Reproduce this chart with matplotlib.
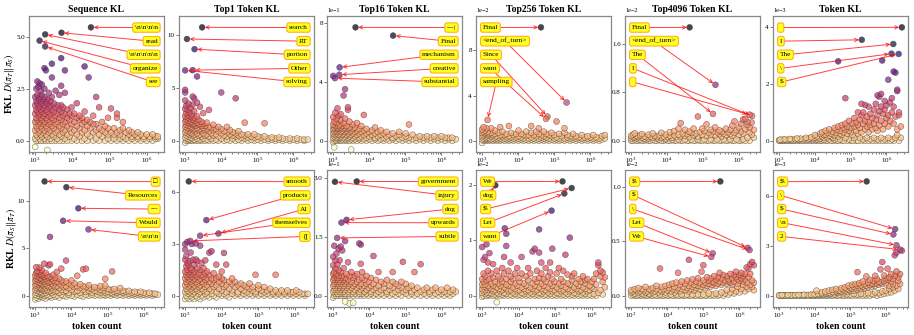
import numpy as np
import matplotlib
matplotlib.use('Agg')
import matplotlib.pyplot as plt
from matplotlib.ticker import ScalarFormatter

plt.rcParams['font.family'] = ['Liberation Serif', 'DejaVu Serif', 'DejaVu Sans']
plt.rcParams['mathtext.fontset'] = 'stix'

titles = ['Sequence KL', 'Top1 Token KL', 'Top16 Token KL',
          'Top256 Token KL', 'Top4096 Token KL', 'Token KL']
row_labels = [r'FKL $D(\pi_T\|\pi_S)$', r'RKL $D(\pi_S\|\pi_T)$']

# cloud data: (log10 token count, [KL values in panel units]) per column
# ---------------- FKL, Sequence KL (units 1)
fkl_seq_cols = [
    (3.00, [-0.3, 0.1, 0.5, 0.9, 1.3, 1.7, 2.1]), (3.03, [0.0, 0.3, 0.7, 1.1, 1.5, 1.9, 2.5]),
    (3.06, [0.2, 0.6, 1.0, 1.4, 1.8, 2.2, 2.85]), (3.09, [0.0, 0.4, 0.8, 1.2, 1.6, 2.0, 2.6]),
    (3.12, [0.1, 0.5, 0.9, 1.3, 1.7, 2.1, 2.75]), (3.15, [0.0, 0.3, 0.7, 1.1, 1.5, 1.9, 2.4]),
    (3.18, [0.2, 0.6, 1.0, 1.4, 1.8, 2.2, 2.7]), (3.21, [0.0, 0.4, 0.8, 1.2, 1.6, 2.0]),
    (3.25, [0.1, 0.5, 0.9, 1.3, 1.7, 2.1, 2.5, 3.49]), (3.29, [0.0, 0.3, 0.7, 1.1, 1.5, 1.9, 3.38]),
    (3.33, [0.2, 0.6, 1.0, 1.4, 1.8, 2.0, -0.45]), (3.37, [0.0, 0.4, 0.8, 1.2, 1.6, 2.3]),
    (3.41, [0.1, 0.5, 0.9, 1.3, 1.7, 1.9]), (3.45, [0.0, 0.3, 0.7, 1.1, 1.5, 2.1, 3.70, 3.04]),
    (3.50, [0.2, 0.6, 1.0, 1.4, 1.8]), (3.55, [0.0, 0.4, 0.8, 1.2, 1.6, 2.4]),
    (3.60, [0.1, 0.5, 0.9, 1.3, 1.7]), (3.65, [0.0, 0.3, 0.7, 1.1, 1.5, 2.2]),
    (3.70, [0.2, 0.6, 1.0, 1.4, 1.7, 2.64, 3.97]), (3.75, [0.0, 0.4, 0.8, 1.2, 1.6]),
    (3.80, [0.1, 0.5, 0.9, 1.3, 2.3, 3.38]), (3.86, [0.0, 0.3, 0.7, 1.1, 1.5]),
    (3.92, [0.2, 0.6, 1.0, 1.3]), (3.98, [0.0, 0.4, 0.8, 1.2, 1.6]),
    (4.05, [0.1, 0.5, 0.9, 1.3]), (4.12, [0.0, 0.3, 0.7, 1.1, 1.8]),
    (4.19, [0.2, 0.6, 1.0, 1.2]), (4.26, [0.0, 0.4, 0.8, 1.1]),
    (4.33, [0.1, 0.5, 0.9, 1.4, 3.57]), (4.40, [0.0, 0.3, 0.7, 1.0]),
    (4.44, [3.04]), (4.48, [0.2, 0.6, 0.9]), (4.56, [0.0, 0.4, 0.8, 1.2]),
    (4.64, [0.1, 0.5, 0.8, 2.1]), (4.72, [0.0, 0.3, 0.6, 1.6]),
    (4.80, [0.2, 0.5, 0.9]), (4.88, [0.0, 0.4, 0.7]),
    (4.96, [0.1, 0.3, 0.6, 1.1]), (5.04, [0.0, 0.4, 1.55]),
    (5.12, [0.1, 0.3, 0.6]), (5.20, [0.0, 0.4, 1.3, 1.1]),
    (5.28, [0.1, 0.3, 0.5]), (5.36, [0.0, 0.2, 0.6, 0.9]),
    (5.44, [0.1, 0.4]), (5.52, [0.0, 0.3, 0.5]), (5.60, [0.1, 0.2, 0.4]),
    (5.68, [0.0, 0.3]), (5.76, [0.1, 0.2, 0.4]), (5.84, [0.0, 0.3]),
    (5.92, [0.1, 0.2]), (6.00, [0.0, 0.3]), (6.08, [0.1, 0.2]),
    (6.16, [0.0, 0.3]), (6.24, [0.1, 0.2]), (6.30, [0.1, 0.2]),
]
fkl_seq_labels = [r'\n\n\n\n', 'read', r'\n\n\n\n\n', 'organize', 'see']
fkl_seq_lx = [4.50, 3.71, 3.27, 3.12, 3.27]
fkl_seq_y = [5.45, 5.19, 5.11, 4.81, 4.53]

# ---------------- FKL, Top1 (units 1)
fkl_top1_cols = [
    (3.00, [-0.2, 0.3, 0.8, 1.3, 1.8, 2.3, 3.0, 3.8, 4.8, 4.55]), (3.03, [0.0, 0.5, 1.0, 1.5, 2.0, 2.6, 3.3]),
    (3.06, [0.2, 0.7, 1.2, 1.7, 2.2, 2.9]), (3.09, [0.0, 0.4, 0.9, 1.4, 1.9, 2.4, 3.5]),
    (3.12, [0.1, 0.6, 1.1, 1.6, 2.1, 2.7]), (3.15, [0.0, 0.3, 0.8, 1.3, 1.8, 2.3, 3.1]),
    (3.18, [0.2, 0.7, 1.2, 1.7, 2.5]), (3.21, [0.0, 0.5, 1.0, 1.5, 2.0, 4.16, 3.4]),
    (3.25, [0.1, 0.6, 1.1, 1.6, 2.2, 2.8, 4.0]), (3.29, [0.0, 0.4, 0.9, 1.4, 1.9]),
    (3.33, [0.2, 0.7, 1.2, 1.7, 2.3, 3.6, 6.06]), (3.37, [0.0, 0.5, 1.0, 1.5, 2.0]),
    (3.41, [0.1, 0.6, 1.1, 1.6, 3.2]), (3.45, [0.0, 0.4, 0.9, 1.4, 1.8]),
    (3.50, [0.2, 0.7, 1.2, 1.6, 2.6]), (3.55, [0.0, 0.5, 1.0, 1.4]),
    (3.60, [0.1, 0.6, 1.1, 1.7]), (3.66, [0.0, 0.4, 0.9, 1.3, 2.9]),
    (3.72, [0.2, 0.7, 1.2]), (3.78, [0.0, 0.5, 1.0, 1.5]),
    (3.85, [0.1, 0.6, 1.1]), (3.92, [0.0, 0.4, 0.9, 1.3]),
    (4.00, [0.2, 0.7, 1.1, 4.55]), (4.08, [0.0, 0.5, 0.9]),
    (4.16, [0.1, 0.4, 0.8, 1.3]), (4.24, [0.0, 0.6, 1.0]),
    (4.32, [0.2, 0.5, 0.8]), (4.40, [0.0, 0.4, 0.7, 4.0]),
    (4.48, [0.1, 0.5, 0.9]), (4.56, [0.0, 0.3, 0.6]),
    (4.65, [0.2, 0.5, 1.7]), (4.74, [0.0, 0.3, 0.6]),
    (4.83, [0.1, 0.4]), (4.92, [0.0, 0.3, 0.6]), (5.01, [0.1, 0.4]),
    (5.10, [0.0, 0.3]), (5.20, [0.1, 0.4, 1.64]), (5.30, [0.0, 0.2]),
    (5.40, [0.1, 0.3]), (5.50, [0.0, 0.2]), (5.60, [0.1, 0.3]),
    (5.70, [0.0, 0.2]), (5.80, [0.1]), (5.90, [0.0, 0.2]), (6.00, [0.1]),
    (6.10, [0.0, 0.2]), (6.20, [0.1]), (6.30, [0.0, 0.1]), (6.40, [0.1]),
]
fkl_top1_labels = ['search', 'RT', 'portion', 'Other', 'solving']
fkl_top1_lx = [3.47, 3.05, 3.26, 3.21, 3.00]
fkl_top1_y = [10.7, 9.6, 8.64, 6.66, 6.64]

# ---------------- FKL, Top16 (units 1e-1)
fkl_top16_cols = [
    (3.00, [-0.1, 0.2, 0.5, 0.8, 1.1, 1.6, 4.40]), (3.03, [0.0, 0.3, 0.6, 0.9, 1.3, -0.45]),
    (3.06, [0.1, 0.4, 0.7, 1.0, 1.9]), (3.09, [0.0, 0.2, 0.5, 0.8, 1.2, 1.5]),
    (3.12, [0.1, 0.3, 0.6, 0.9, 2.2]), (3.15, [0.0, 0.4, 0.7, 1.0, 1.7]),
    (3.18, [0.1, 0.2, 0.5, 0.8, 1.1]), (3.21, [0.0, 0.3, 0.6, 0.9, 1.4, 1.8]),
    (3.25, [0.1, 0.4, 0.7, 1.0]), (3.29, [0.0, 0.2, 0.5, 0.8, 1.2, 3.07]),
    (3.33, [0.1, 0.3, 0.6, 0.9, 3.5, 1.5]), (3.37, [0.0, 0.4, 0.7, 1.0]),
    (3.41, [0.1, 0.2, 0.5, 0.8, 2.27, 2.1]), (3.45, [0.0, 0.3, 0.6, 0.9, 1.3]),
    (3.50, [0.1, 0.4, 0.7, -0.6]), (3.55, [0.0, 0.2, 0.5, 0.8, 1.1]),
    (3.60, [0.1, 0.3, 0.6, 0.9]), (3.66, [0.0, 0.4, 0.7, 1.2]),
    (3.72, [0.1, 0.2, 0.5, 0.8]), (3.78, [0.0, 0.3, 0.6, 1.0]),
    (3.85, [0.1, 0.4, 0.7, 1.75]), (3.92, [0.0, 0.2, 0.5, 0.8]),
    (4.00, [0.1, 0.3, 0.6]), (4.08, [0.0, 0.4, 0.7]),
    (4.16, [0.1, 0.2, 0.5, 0.9]), (4.24, [0.0, 0.3, 0.6]),
    (4.32, [0.1, 0.4, 0.7]), (4.40, [0.0, 0.2, 0.5]),
    (4.48, [0.1, 0.3, 0.6]), (4.56, [0.0, 0.4]), (4.65, [0.1, 0.2, 0.5]),
    (4.74, [0.0, 0.3]), (4.83, [0.1, 0.4, 0.6]), (4.92, [0.0, 0.2]),
    (5.01, [0.1, 0.3, 0.5]), (5.10, [0.0, 0.2, 1.1]), (5.20, [0.1, 0.4]),
    (5.30, [0.0, 0.2]), (5.40, [0.1, 0.3]), (5.50, [0.0, 0.2]),
    (5.60, [0.1, 0.3]), (5.70, [0.0, 0.2]), (5.80, [0.1, 0.3]),
    (5.90, [0.0, 0.2]), (6.00, [0.1, 0.3]), (6.10, [0.0, 0.2]),
    (6.20, [0.1, 0.2]), (6.30, [0.0, 0.2]), (6.40, [0.1]),
]
fkl_top16_labels = ['---|', 'Final', 'mechanism', 'creative', 'substantial']
fkl_top16_lx = [3.62, 4.66, 3.18, 3.17, 3.05]
fkl_top16_y = [7.70, 7.14, 4.98, 4.48, 4.25]

# ---------------- FKL, Top256 (units 1e-2)
fkl_top256_cols = [
    (3.00, [-0.2, 0.1, 0.4, 0.7, 1.0]), (3.04, [0.0, 0.2, 0.5, 0.8, 1.2]),
    (3.08, [0.1, 0.3, 0.6, 0.9]), (3.12, [0.0, 0.2, 0.4, 0.7, 1.1]),
    (3.16, [0.1, 0.3, 0.5, 0.8]), (3.20, [0.0, 0.2, 0.6]),
    (3.25, [0.1, 0.4, 0.7, 1.1]), (3.30, [0.0, 0.2, 0.5]),
    (3.35, [0.1, 0.3, 0.6, 0.9]), (3.40, [0.0, 0.2, 0.4]),
    (3.45, [0.1, 0.3, 0.7]), (3.50, [0.0, 0.2, 0.5, 1.2]),
    (3.56, [0.1, 0.4, 0.8]), (3.62, [0.0, 0.2, 0.5]),
    (3.68, [0.1, 0.3, 0.6]), (3.74, [0.0, 0.2, 0.4, 1.3]),
    (3.80, [0.1, 0.3, 0.7]), (3.87, [0.0, 0.2, 0.5]),
    (3.94, [0.1, 0.3, 0.6]), (4.01, [0.0, 0.2, 0.4, 0.9]),
    (4.08, [0.1, 0.3, 0.6]), (4.15, [0.0, 0.2, 0.5]),
    (4.22, [0.1, 0.4, 0.8]), (4.29, [0.0, 0.2, 0.5]),
    (4.36, [0.1, 0.3, 1.3, 0.7]), (4.43, [0.0, 0.2, 0.5]),
    (4.50, [0.1, 0.4, 0.8]), (4.57, [0.0, 0.2, 0.6, 1.1]),
    (4.64, [0.1, 0.3, 0.5]), (4.71, [0.0, 0.2, 0.4, 0.8]),
    (4.78, [0.1, 0.3, 0.6]), (4.85, [0.0, 0.2, 0.5]),
    (4.92, [0.1, 0.4, 0.7]), (5.00, [0.0, 0.2, 0.5]),
    (5.06, [0.1, 0.3, 1.7]), (5.13, [0.0, 0.2, 0.6]),
    (5.20, [0.1, 0.4]), (5.28, [0.0, 0.2, 1.1, 0.7]),
    (5.36, [0.1, 0.3, 0.5]), (5.44, [0.0, 0.2, 0.4]),
    (5.52, [0.1, 0.3, 0.6]), (5.60, [0.0, 0.2, 0.4]),
    (5.68, [0.1, 0.3]), (5.76, [0.0, 0.2, 0.5]), (5.84, [0.1, 0.3]),
    (5.92, [0.0, 0.2, 0.4]), (6.00, [0.1, 0.3]), (6.08, [0.0, 0.2, 0.5]),
    (6.16, [0.1, 0.3]), (6.24, [0.0, 0.2]), (6.32, [0.1, 0.4]), (6.40, [0.2, 0.5]),
]
fkl_top256_labels = ['Final', '<end_of_turn>', 'Since', 'want', 'sampling']
fkl_top256_lx = [4.63, 5.34, 4.81, 4.77, 3.15]
fkl_top256_y = [10.04, 3.38, 2.13, 1.93, 1.84]

# ---------------- FKL, Top4096 (units 1e-2)
fkl_top4096_cols = [
    (3.00, [0.0, 0.04, 0.08]), (3.05, [0.0, 0.06, 0.10]), (3.10, [0.02, 0.05, 0.12]),
    (3.15, [0.0, 0.04, 0.08]), (3.20, [0.0, 0.06]), (3.25, [0.02, 0.09]),
    (3.30, [0.0, 0.05, 0.11]), (3.36, [0.0, 0.03, 0.07]), (3.42, [0.02, 0.06]),
    (3.48, [0.0, 0.04, 0.10]), (3.54, [0.0, 0.07]), (3.60, [0.02, 0.05, 0.12]),
    (3.66, [0.0, 0.08]), (3.72, [0.0, 0.04, 0.06]), (3.78, [0.02, 0.09]),
    (3.84, [0.0, 0.05, 0.13]), (3.90, [0.0, 0.07]), (3.96, [0.02, 0.04, 0.10]),
    (4.02, [0.0, 0.06]), (4.08, [0.0, 0.08, 0.14]), (4.14, [0.02, 0.05]),
    (4.20, [0.0, 0.09, 0.16]), (4.26, [0.0, 0.06]), (4.32, [0.02, 0.10, 0.2]),
    (4.38, [0.0, 0.07, 0.29]), (4.44, [0.0, 0.12]), (4.50, [0.02, 0.08, 0.18]),
    (4.56, [0.0, 0.11]), (4.62, [0.0, 0.06, 0.15]), (4.68, [0.02, 0.13]),
    (4.74, [0.0, 0.09, 0.2]), (4.80, [0.0, 0.12]), (4.86, [0.02, 0.07, 0.40]),
    (4.92, [0.0, 0.14]), (4.98, [0.0, 0.10, 0.2]), (5.04, [0.02, 0.16]),
    (5.10, [0.0, 0.08, 0.27]), (5.16, [0.0, 0.13]), (5.22, [0.02, 0.10, 0.18]),
    (5.28, [0.0, 0.15]), (5.34, [0.0, 0.09, 0.22]), (5.40, [0.02, 0.14]),
    (5.46, [0.0, 0.11, 0.17]), (5.52, [0.0, 0.07, 0.15]), (5.58, [0.02, 0.12]),
    (5.64, [0.0, 0.09, 0.2]), (5.70, [0.0, 0.14]), (5.76, [0.02, 0.11, 0.18]),
    (5.82, [0.0, 0.08, 0.25]), (5.88, [0.0, 0.13, 0.32]), (5.94, [0.02, 0.17]),
    (6.00, [0.0, 0.10, 0.22]), (6.06, [0.0, 0.15, 0.28]), (6.12, [0.02, 0.12, 0.35]),
    (6.18, [0.0, 0.19, 0.36]), (6.24, [0.05, 0.26, 0.31]), (6.30, [0.0, 0.14, 0.22]),
    (6.36, [0.1, 0.3]), (6.42, [0.05, 0.18]),
]
fkl_top4096_labels = ['Final', '<end_of_turn>', 'The', 'I', ' ']
fkl_top4096_lx = [4.63, 5.35, 5.28, 6.37, 6.30]
fkl_top4096_y = [1.877, 0.925, 0.443, 0.41, 0.43]

# ---------------- FKL, Token KL (units 1e-3)
fkl_token_cols = [
    (3.00, [0.0, 0.02]), (3.04, [0.0, 0.04]), (3.08, [0.01]), (3.12, [0.0, 0.03]),
    (3.16, [0.0, 0.05]), (3.20, [0.01]), (3.25, [0.0, 0.03]), (3.30, [0.0, 0.06]),
    (3.35, [0.01, 0.04]), (3.40, [0.0]), (3.45, [0.0, 0.05]), (3.50, [0.02, 0.08]),
    (3.55, [0.0, 0.04]), (3.60, [0.0, 0.07]), (3.65, [0.02]), (3.70, [0.0, 0.06]),
    (3.75, [0.0, 0.1]), (3.80, [0.02, 0.05]), (3.85, [0.0, 0.08]), (3.90, [0.0, 0.12]),
    (3.95, [0.02, 0.06]), (4.00, [0.0, 0.1, 0.2]), (4.05, [0.0, 0.05, 0.15]),
    (4.10, [0.02, 0.12]), (4.15, [0.0, 0.08, 0.25]), (4.20, [0.0, 0.16, 0.3]),
    (4.25, [0.03, 0.1, 0.2]), (4.30, [0.0, 0.22, 0.35]), (4.35, [0.0, 0.12, 0.28]),
    (4.40, [0.05, 0.18, 0.4]), (4.45, [0.0, 0.25, 0.15]), (4.50, [0.0, 0.1, 0.32]),
    (4.55, [0.05, 0.2, 0.45]), (4.60, [0.0, 0.28, 0.38]), (4.65, [0.0, 0.15, 0.5, 2.8]),
    (4.70, [0.05, 0.35, 0.25]), (4.75, [0.0, 0.2, 0.55]), (4.80, [0.0, 0.3, 0.45]),
    (4.85, [0.1, 0.4, 0.6, 1.5]), (4.90, [0.0, 0.25, 0.5]), (4.95, [0.05, 0.35, 0.7]),
    (5.00, [0.0, 0.45, 0.3]), (5.05, [0.0, 0.2, 0.6]), (5.10, [0.1, 0.5, 0.8]),
    (5.15, [0.0, 0.35, 0.65]), (5.20, [0.0, 0.25, 0.55, 1.0]), (5.25, [0.1, 0.45, 0.75]),
    (5.30, [0.0, 0.3, 0.9, 1.3]), (5.35, [0.05, 0.6, 1.0]), (5.40, [0.0, 0.4, 0.7, 1.26]),
    (5.45, [0.1, 0.5, 0.85]), (5.50, [0.0, 0.3, 0.65, 1.2]), (5.55, [0.05, 0.55, 0.95]),
    (5.60, [0.0, 0.4, 0.8]), (5.65, [0.1, 0.6, 1.1]), (5.70, [0.0, 0.45, 0.75, 1.3]),
    (5.75, [0.05, 0.35, 0.9, 1.6]), (5.80, [0.0, 0.55, 1.05, 1.55]),
    (5.85, [0.1, 0.7, 1.2, 1.65]), (5.88, [2.83]), (5.90, [0.0, 0.4, 0.95]),
    (5.95, [0.05, 0.6, 1.1, 1.4]), (6.00, [0.0, 0.8, 1.25]), (6.05, [0.1, 0.5, 0.9, 2.15]),
    (6.10, [0.0, 0.7, 1.35]), (6.15, [0.05, 1.0, 1.5]), (6.20, [0.0, 0.6, 1.2, 2.44]),
    (6.25, [0.1, 0.85, 2.4]), (6.30, [0.2, 0.4, 1.8, 1.75]), (6.35, [0.0, 1.0, 0.9]),
    (6.40, [0.1, 0.5]),
]
fkl_token_labels = [' ', 'I', 'The', '\\', '$']
fkl_token_lx = [6.43, 5.31, 6.19, 6.14, 6.34]
fkl_token_y = [4.00, 3.56, 3.41, 3.07, 3.06]

# ---------------- RKL, Sequence KL (units 1)
rkl_seq_cols = [
    (3.00, [-0.4, 0.1, 0.6, 1.1, 1.6, 2.1]), (3.03, [-0.2, 0.3, 0.8, 1.3, 1.8, 2.4, 3.0]),
    (3.06, [0.0, 0.5, 1.0, 1.5, 2.0, 2.6]), (3.09, [-0.3, 0.2, 0.7, 1.2, 1.7, 2.2]),
    (3.12, [0.0, 0.4, 0.9, 1.4, 1.9, 2.5, 2.95]), (3.15, [-0.1, 0.3, 0.8, 1.3, 1.8, 2.3]),
    (3.18, [0.1, 0.6, 1.1, 1.6, 2.1, 2.7]), (3.21, [-0.2, 0.2, 0.7, 1.2, 1.7, 2.2]),
    (3.25, [0.0, 0.5, 1.0, 1.5, 2.0, 3.37]), (3.29, [-0.3, 0.3, 0.8, 1.3, 1.8, 2.4]),
    (3.33, [0.1, 0.6, 1.1, 1.6, 2.1]), (3.37, [-0.1, 0.4, 0.9, 1.4, 1.9, 3.2]),
    (3.41, [0.0, 0.5, 1.0, 1.5, 2.0, 3.3, 6.2]), (3.45, [-0.2, 0.3, 0.8, 1.3, 1.8]),
    (3.50, [0.1, 0.6, 1.1, 1.6, 2.2]), (3.55, [-0.1, 0.4, 0.9, 1.4, 1.9]),
    (3.60, [0.0, 0.5, 1.0, 1.5, 2.5]), (3.66, [-0.2, 0.3, 0.8, 1.3, 1.8]),
    (3.72, [0.1, 0.6, 1.1, 1.6, 2.85]), (3.78, [0.0, 0.4, 0.9, 1.4]),
    (3.85, [-0.1, 0.5, 1.0, 1.5, 3.7]), (3.92, [0.1, 0.3, 0.8, 1.3]),
    (4.00, [0.0, 0.6, 1.1, 1.6]), (4.08, [-0.1, 0.4, 0.9, 1.3]),
    (4.16, [0.1, 0.5, 1.0, 2.1]), (4.24, [0.0, 0.3, 0.8, 1.2]),
    (4.32, [-0.1, 0.6, 1.0, 2.77]), (4.40, [0.1, 0.4, 0.9, 2.84]),
    (4.48, [0.0, 0.5, 0.8, 1.1]), (4.56, [0.1, 0.3, 0.7]),
    (4.64, [0.0, 0.5, 0.9]), (4.72, [0.1, 0.4, 0.8]),
    (4.80, [0.0, 0.3, 0.6, 1.0]), (4.88, [0.1, 0.5, 0.8]),
    (4.93, [0.0, 0.3, 1.77, 1.06]), (5.00, [0.1, 0.4, 0.7]),
    (5.08, [0.0, 0.3, 0.6]), (5.12, [0.2, 2.55]), (5.18, [0.1, 0.4, 0.7]),
    (5.26, [0.0, 0.3, 0.5]), (5.34, [0.1, 0.4, 0.8]), (5.42, [0.0, 0.3, 0.5]),
    (5.50, [0.1, 0.4]), (5.58, [0.0, 0.2, 0.5]), (5.66, [0.1, 0.3]),
    (5.74, [0.0, 0.2, 0.4]), (5.82, [0.1, 0.3]), (5.90, [0.0, 0.2, 0.4]),
    (5.98, [0.1, 0.3]), (6.06, [0.0, 0.2]), (6.14, [0.1, 0.3]),
    (6.22, [0.0, 0.2]), (6.30, [0.1, 0.2]), (6.38, [0.1]),
]
rkl_seq_labels = ['\u25a1', 'Resources', '---', 'Would', r'\n\n\n']
rkl_seq_lx = [3.26, 3.86, 4.19, 3.77, 4.47]
rkl_seq_y = [12.06, 11.45, 9.22, 7.90, 6.99]

# ---------------- RKL, Top1 (units 1)
rkl_top1_cols = [
    (3.00, [-0.2, 0.2, 0.6, 1.0, 1.4, 2.09, 2.67, 2.99]), (3.03, [0.0, 0.4, 0.8, 1.2, 1.7, 2.3]),
    (3.06, [-0.1, 0.3, 0.7, 1.1, 1.5, 1.9, 3.12]), (3.09, [0.1, 0.5, 0.9, 1.3, 1.8]),
    (3.12, [-0.2, 0.2, 0.6, 1.0, 1.4, 2.0]), (3.15, [0.0, 0.4, 0.8, 1.2, 1.6, 2.5]),
    (3.18, [-0.1, 0.3, 0.7, 1.1, 1.5, 3.0]), (3.21, [0.1, 0.5, 0.9, 1.3, 2.09]),
    (3.25, [-0.2, 0.2, 0.6, 1.0, 1.4, 1.8]), (3.29, [0.0, 0.4, 0.8, 1.2, 2.1, 3.03]),
    (3.33, [-0.1, 0.3, 0.7, 1.1, 1.6, 2.0]), (3.37, [0.1, 0.5, 0.9, 1.3]),
    (3.41, [-0.2, 0.2, 0.6, 1.0, 1.5, 2.9]), (3.45, [0.0, 0.4, 0.8, 1.2, 1.9]),
    (3.50, [-0.1, 0.3, 0.7, 1.1, 1.6]), (3.55, [0.1, 0.5, 0.9, 1.3, 2.05]),
    (3.60, [0.0, 0.2, 0.6, 1.0, 1.4]), (3.66, [-0.1, 0.4, 0.8, 1.2, 2.5]),
    (3.72, [0.1, 0.3, 0.7, 1.0, 2.58]), (3.78, [0.0, 0.5, 0.9, 1.3]),
    (3.85, [-0.1, 0.2, 0.6, 1.0, 1.8]), (3.92, [0.1, 0.4, 0.8, 1.1]),
    (4.00, [0.0, 0.3, 0.7, 1.0, 1.4]), (4.06, [0.1, 0.5, 0.9, 2.48]),
    (4.12, [0.0, 0.2, 0.6, 1.8]), (4.20, [-0.1, 0.4, 0.8]),
    (4.28, [0.1, 0.3, 0.7, 1.0]), (4.36, [0.0, 0.5, 0.8]),
    (4.44, [0.1, 0.2, 0.6]), (4.52, [0.0, 0.4, 0.7]), (4.60, [0.1, 0.3, 0.6]),
    (4.68, [0.0, 0.2, 0.5]), (4.76, [0.1, 0.4, 0.7]), (4.84, [0.0, 0.3, 0.5]),
    (4.92, [0.1, 0.2, 1.21]), (5.00, [0.0, 0.4, 0.6]), (5.08, [0.1, 0.3]),
    (5.16, [0.0, 0.2, 0.5]), (5.24, [0.1, 0.3]), (5.32, [0.0, 0.4]),
    (5.40, [0.1, 0.2]), (5.47, [0.0, 0.3, 1.21]), (5.55, [0.1, 0.2]),
    (5.63, [0.0, 0.3]), (5.71, [0.1, 0.2]), (5.79, [0.0, 0.3]),
    (5.87, [0.1, 0.2]), (5.95, [0.0, 0.2]), (6.03, [0.1, 0.3]),
    (6.11, [0.0, 0.2]), (6.19, [0.1]), (6.27, [0.0, 0.1]), (6.35, [0.1]),
]
rkl_top1_labels = ['smooth', 'products', 'AI', 'themselves', '{[']
rkl_top1_lx = [3.10, 3.58, 3.91, 3.41, 3.14]
rkl_top1_y = [6.64, 4.39, 3.61, 3.48, 3.18]

# ---------------- RKL, Top16 (units 1e-1)
rkl_top16_cols = [
    (3.00, [-0.05, 0.1, 0.25, 0.4, 0.55, 0.77, 0.99]), (3.03, [0.0, 0.15, 0.3, 0.45, 0.6, 1.27]),
    (3.06, [0.05, 0.2, 0.35, 0.5, 0.7, 0.9]), (3.09, [0.0, 0.1, 0.25, 0.4, 0.55, 1.07]),
    (3.12, [0.05, 0.15, 0.3, 0.45, 0.8]), (3.15, [0.0, 0.2, 0.35, 0.5, 0.65, 1.2]),
    (3.18, [0.05, 0.1, 0.25, 0.4, 0.9]), (3.21, [0.0, 0.15, 0.3, 0.45, 0.6, 1.25]),
    (3.25, [0.05, 0.2, 0.35, 0.5, 1.15]), (3.29, [0.0, 0.1, 0.25, 0.4, 0.7]),
    (3.33, [0.05, 0.15, 0.3, 0.45, 1.39, -0.15]), (3.37, [0.0, 0.2, 0.35, 0.55]),
    (3.41, [0.05, 0.1, 0.25, 0.4, 0.85]), (3.45, [0.0, 0.15, 0.3, 0.5, -0.2]),
    (3.50, [0.05, 0.2, 0.35, 0.6]), (3.55, [0.0, 0.1, 0.25, 0.45, -0.18]),
    (3.60, [0.05, 0.15, 0.3, 0.5]), (3.66, [0.0, 0.2, 0.35, 0.55]),
    (3.72, [0.05, 0.1, 0.25, 0.4, 1.33]), (3.76, [0.0, 0.15, 0.3, 1.3, 0.81]),
    (3.80, [0.05, 0.2, 0.45, 0.6]), (3.86, [0.0, 0.1, 0.25, 0.4]),
    (3.92, [0.05, 0.15, 0.3, 0.5]), (3.98, [0.0, 0.2, 0.35]),
    (4.04, [0.05, 0.1, 0.25, 0.45]), (4.11, [0.0, 0.15, 0.3, 1.01]),
    (4.18, [0.05, 0.2, 0.4]), (4.25, [0.0, 0.1, 0.25, 0.6]),
    (4.32, [0.05, 0.15, 0.35]), (4.40, [0.0, 0.2, 0.3]), (4.48, [0.05, 0.1, 0.4]),
    (4.56, [0.0, 0.15, 0.25]), (4.64, [0.05, 0.2, 0.35, 0.6]), (4.72, [0.0, 0.1, 0.3]),
    (4.80, [0.05, 0.15, 0.25]), (4.88, [0.0, 0.2, 0.35]), (4.92, [0.86, 0.1]),
    (5.00, [0.05, 0.15, 0.3]), (5.08, [0.0, 0.2]), (5.16, [0.05, 0.1, 0.25]),
    (5.24, [0.0, 0.15, 0.6]), (5.32, [0.05, 0.2]), (5.41, [0.0, 0.1, 0.8]),
    (5.50, [0.05, 0.15]), (5.58, [0.0, 0.2]), (5.66, [0.05, 0.1]),
    (5.74, [0.0, 0.15]), (5.82, [0.05, 0.2]), (5.90, [0.0, 0.1]),
    (5.98, [0.05, 0.15]), (6.06, [0.0, 0.1]), (6.14, [0.05, 0.2]),
    (6.22, [0.0, 0.1]), (6.30, [0.05, 0.15]), (6.38, [0.1]),
]
rkl_top16_labels = ['government', 'injury', 'dog', 'upwards', 'subtle']
rkl_top16_lx = [3.65, 3.05, 3.37, 3.23, 3.11]
rkl_top16_y = [2.91, 2.90, 1.93, 1.86, 1.47]

# ---------------- RKL, Top256 (units 1e-2)
rkl_top256_cols = [
    (3.00, [-0.02, 0.05, 0.12, 0.2, 0.3, 0.88]), (3.04, [0.0, 0.08, 0.16, 0.25, 0.4, 0.65]),
    (3.08, [0.03, 0.1, 0.2, 0.35, 0.7]), (3.12, [0.0, 0.06, 0.14, 0.28, 0.93]),
    (3.16, [0.02, 0.1, 0.18, 0.45, 0.6]), (3.20, [0.0, 0.05, 0.15, 0.3, 0.77]),
    (3.25, [0.03, 0.12, 0.22, 0.4]), (3.30, [0.0, 0.08, 0.18, 0.33, 0.57]),
    (3.35, [0.02, 0.1, 0.25]), (3.40, [0.0, 0.06, 0.15, 0.45, -0.12]),
    (3.45, [0.03, 0.12, 0.22, 0.35]), (3.50, [0.0, 0.08, 0.18, 0.3]),
    (3.55, [0.02, 0.1, 0.25, 0.5]), (3.60, [0.0, 0.05, 0.15, 0.4, 0.7]),
    (3.62, [1.22]), (3.66, [0.03, 0.12, 0.2, 0.3, 0.9, 1.12]),
    (3.72, [0.0, 0.08, 0.18, 0.45]), (3.78, [0.02, 0.1, 0.25, 0.35, 0.6]),
    (3.84, [0.0, 0.06, 0.15, 0.3]), (3.90, [0.03, 0.12, 0.22, 0.4]),
    (3.96, [0.0, 0.08, 0.18, 0.5]), (4.02, [0.02, 0.1, 0.25, 0.32]),
    (4.08, [0.0, 0.05, 0.15, 0.4, 0.7]), (4.14, [0.03, 0.12, 0.22]),
    (4.20, [0.0, 0.08, 0.18, 0.35]), (4.26, [0.02, 0.1, 0.28, 0.5]),
    (4.32, [0.0, 0.06, 0.15, 0.4]), (4.38, [0.03, 0.12, 0.22, 0.8]),
    (4.44, [0.0, 0.08, 0.18, 0.3, 0.85]), (4.50, [0.02, 0.1, 0.25, 0.45]),
    (4.56, [0.0, 0.05, 0.15, 0.32, 0.78, 1.2]), (4.62, [0.03, 0.12, 0.22, 0.4, 0.6]),
    (4.68, [0.0, 0.08, 0.18, 0.3]), (4.74, [0.02, 0.1, 0.25, 0.5]),
    (4.80, [0.0, 0.06, 0.15, 0.35]), (4.86, [0.03, 0.12, 0.22, 0.42, 0.6]),
    (4.92, [0.0, 0.08, 0.18, 0.3, 0.85]), (4.98, [0.02, 0.1, 0.25]),
    (5.04, [0.0, 0.05, 0.15, 0.4]), (5.10, [0.03, 0.12, 0.22, 0.5]),
    (5.16, [0.0, 0.08, 0.18, 0.3]), (5.22, [0.02, 0.1, 0.25, 0.45]),
    (5.28, [0.0, 0.06, 0.15, 0.74]), (5.34, [0.03, 0.12, 0.22, 0.38]),
    (5.40, [0.0, 0.08, 0.2, 1.05]), (5.46, [0.02, 0.1, 0.28, 0.35]),
    (5.52, [0.0, 0.05, 0.15, 0.4]), (5.58, [0.03, 0.12, 0.22]),
    (5.64, [0.0, 0.08, 0.18, 0.3]), (5.70, [0.02, 0.1, 0.25]),
    (5.76, [0.0, 0.06, 0.15, 0.35]), (5.82, [0.03, 0.12, 0.22, 0.28]),
    (5.88, [0.0, 0.08, 0.3]), (5.94, [0.02, 0.1, 0.18]), (6.00, [0.0, 0.15, 0.25]),
    (6.06, [0.03, 0.12, 0.3]), (6.12, [0.0, 0.2, 0.4]), (6.18, [0.05, 0.6, 0.55]),
    (6.24, [0.1, 0.35, 0.45]), (6.30, [0.02, 0.42, 0.25]), (6.36, [0.15, 0.33]),
]
rkl_top256_labels = ['We', 'dog', '$\\', 'Let', 'want']
rkl_top256_lx = [5.20, 3.36, 5.45, 5.25, 4.90]
rkl_top256_y = [2.07, 2.00, 1.95, 1.85, 1.54]

# ---------------- RKL, Top4096 (units 1e-2)
rkl_top4096_cols = [
    (3.00, [0.0, 0.03, 0.05]), (3.05, [0.01, 0.04]), (3.10, [0.0, 0.02, 0.06]),
    (3.15, [0.0, 0.05]), (3.20, [0.01, 0.03, 0.07]), (3.25, [0.0, 0.04]),
    (3.30, [0.0, 0.02, 0.06]), (3.35, [0.01, 0.05]), (3.40, [0.0, 0.03, 0.08]),
    (3.45, [0.0, 0.04]), (3.50, [0.01, 0.02, 0.06]), (3.55, [0.0, 0.05]),
    (3.60, [0.0, 0.03, 0.07]), (3.65, [0.01, 0.04]), (3.70, [0.0, 0.06, 0.09]),
    (3.75, [0.0, 0.03]), (3.80, [0.01, 0.05, 0.25]), (3.85, [0.0, 0.04, 0.08]),
    (3.90, [0.0, 0.06]), (3.95, [0.01, 0.03, 0.09]), (4.00, [0.0, 0.05]),
    (4.05, [0.0, 0.07, 0.1]), (4.10, [0.01, 0.04]), (4.15, [0.0, 0.06, 0.11]),
    (4.20, [0.0, 0.03, 0.08]), (4.25, [0.01, 0.05, 0.12]), (4.30, [0.0, 0.07, 0.21]),
    (4.35, [0.0, 0.04, 0.1]), (4.40, [0.01, 0.06, 0.13]), (4.45, [0.0, 0.08]),
    (4.50, [0.0, 0.05, 0.11]), (4.55, [0.01, 0.07, 0.14]), (4.60, [0.0, 0.04, 0.09, 0.33]),
    (4.65, [0.0, 0.06, 0.12]), (4.70, [0.01, 0.08, 0.15]), (4.75, [0.0, 0.05, 0.1]),
    (4.80, [0.0, 0.07, 0.13]), (4.85, [0.01, 0.09, 0.16]), (4.90, [0.0, 0.06, 0.12]),
    (4.95, [0.0, 0.08, 0.22]), (5.00, [0.01, 0.1, 0.14, 0.28]), (5.05, [0.0, 0.07, 0.12]),
    (5.10, [0.0, 0.09, 0.17]), (5.15, [0.02, 0.11, 0.14]), (5.20, [0.0, 0.08, 0.16]),
    (5.25, [0.01, 0.1, 0.13]), (5.30, [0.0, 0.12, 0.18]), (5.35, [0.02, 0.09, 0.15]),
    (5.40, [0.0, 0.11, 0.17]), (5.45, [0.01, 0.13, 0.21]), (5.50, [0.03, 0.1, 0.16]),
    (5.55, [0.0, 0.12, 0.19]), (5.60, [0.02, 0.14]), (5.65, [0.05, 0.11, 0.18]),
    (5.70, [0.01, 0.15, 0.13]), (5.75, [0.03, 0.12, 0.2]), (5.80, [0.06, 0.16, 0.1]),
    (5.85, [0.02, 0.13, 0.19]), (5.90, [0.04, 0.17, 0.22]), (5.95, [0.08, 0.15, 0.11]),
    (6.00, [0.03, 0.19, 0.14]), (6.05, [0.06, 0.16, 0.21]), (6.10, [0.1, 0.18, 0.13]),
    (6.15, [0.04, 0.2, 0.15]), (6.20, [0.12, 0.26, 0.08]), (6.25, [0.06, 0.25, 0.17]),
    (6.30, [0.1, 0.29, 0.2]), (6.35, [0.08, 0.31, 0.14]), (6.40, [0.12, 0.28, 0.05]),
]
rkl_top4096_labels = ['$\\', '$', '\\', 'Let', 'We']
rkl_top4096_lx = [5.47, 6.23, 6.28, 5.26, 5.22]
rkl_top4096_y = [1.053, 0.44, 0.42, 0.39, 0.356]

# ---------------- RKL, Token KL (units 1e-3)
rkl_token_cols = [
    (3.00, [0.0, 0.02]), (3.04, [0.0]), (3.08, [0.01, 0.03]), (3.12, [0.0]),
    (3.16, [0.0, 0.02]), (3.20, [0.01]), (3.25, [0.0, 0.03]), (3.30, [0.0]),
    (3.35, [0.01, 0.02]), (3.40, [0.0]), (3.45, [0.0, 0.03]), (3.50, [0.01]),
    (3.55, [0.0, 0.04]), (3.60, [0.0]), (3.65, [0.01, 0.03]), (3.70, [0.0, 0.05]),
    (3.75, [0.0]), (3.80, [0.02, 0.04]), (3.85, [0.0]), (3.90, [0.0, 0.06]),
    (3.95, [0.01, 0.03]), (4.00, [0.0, 0.08]), (4.05, [0.0, 0.04, 0.3]),
    (4.10, [0.02, 0.1]), (4.15, [0.0, 0.06]), (4.20, [0.0, 0.12, 0.2]),
    (4.25, [0.03, 0.08]), (4.30, [0.0, 0.15, 0.25]), (4.35, [0.0, 0.1]),
    (4.40, [0.04, 0.18, 0.3]), (4.45, [0.0, 0.12]), (4.50, [0.0, 0.22, 0.35]),
    (4.55, [0.05, 0.15]), (4.60, [0.0, 0.26, 0.4]), (4.65, [0.0, 0.18, 0.3]),
    (4.70, [0.06, 0.32, 0.22]), (4.75, [0.0, 0.25, 0.45]), (4.80, [0.02, 0.15, 0.38]),
    (4.85, [0.0, 0.3, 0.5]), (4.90, [0.08, 0.22, 0.42]), (4.95, [0.0, 0.35, 0.6]),
    (5.00, [0.05, 0.28, 0.48]), (5.05, [0.0, 0.4, 0.65]), (5.10, [0.1, 0.3, 0.55]),
    (5.15, [0.0, 0.45, 0.7]), (5.20, [0.06, 0.35, 0.6, 1.42]), (5.25, [0.0, 0.5, 0.75]),
    (5.30, [0.12, 0.4, 0.62]), (5.35, [0.0, 0.55, 0.85]), (5.40, [0.08, 0.45, 0.7]),
    (5.45, [0.0, 0.6, 1.16]), (5.50, [0.15, 0.5, 0.8]), (5.55, [0.0, 0.65, 0.95]),
    (5.60, [0.1, 0.55, 0.75]), (5.65, [0.05, 0.7, 0.9]), (5.70, [0.2, 0.6, 1.2]),
    (5.75, [0.0, 0.75, 1.0]), (5.80, [0.15, 0.65, 0.85]), (5.85, [0.05, 0.8, 1.59]),
    (5.90, [0.25, 0.7, 2.03]), (5.95, [0.1, 0.9, 1.22]), (6.00, [0.3, 0.75, 1.05]),
    (6.05, [0.15, 0.95, 1.63]), (6.10, [0.4, 0.6, 1.1]), (6.15, [0.2, 0.85, 1.3]),
    (6.20, [0.5, 1.0, 0.7]), (6.25, [0.3, 1.2, 2.44]), (6.30, [0.6, 1.46, 2.6]),
    (6.35, [0.4, 0.91, 1.1]), (6.40, [0.7, 1.3]), (6.45, [2.72]),
]
rkl_token_labels = ['$\\', '\\', '$', '\\n', '2']
rkl_token_lx = [5.46, 6.26, 6.21, 6.30, 6.40]
rkl_token_y = [6.91, 4.02, 3.70, 3.05, 2.78]

panel_scales = [1, 1, 0.1, 0.01, 0.01, 0.001]
fkl_yticks = [[0, 2.5, 5], [0, 5, 10], [0, 0.4, 0.8], [0, 0.04, 0.08], [0, 0.008, 0.016], [0, 0.002, 0.004]]
rkl_yticks = [[0, 5, 10], [0, 3, 6], [0, 0.15, 0.3], [0, 0.01, 0.02], [0, 0.005, 0.01], [0, 0.003, 0.006]]

rows = [
    [(fkl_seq_cols, fkl_seq_labels, fkl_seq_lx, fkl_seq_y),
     (fkl_top1_cols, fkl_top1_labels, fkl_top1_lx, fkl_top1_y),
     (fkl_top16_cols, fkl_top16_labels, fkl_top16_lx, fkl_top16_y),
     (fkl_top256_cols, fkl_top256_labels, fkl_top256_lx, fkl_top256_y),
     (fkl_top4096_cols, fkl_top4096_labels, fkl_top4096_lx, fkl_top4096_y),
     (fkl_token_cols, fkl_token_labels, fkl_token_lx, fkl_token_y)],
    [(rkl_seq_cols, rkl_seq_labels, rkl_seq_lx, rkl_seq_y),
     (rkl_top1_cols, rkl_top1_labels, rkl_top1_lx, rkl_top1_y),
     (rkl_top16_cols, rkl_top16_labels, rkl_top16_lx, rkl_top16_y),
     (rkl_top256_cols, rkl_top256_labels, rkl_top256_lx, rkl_top256_y),
     (rkl_top4096_cols, rkl_top4096_labels, rkl_top4096_lx, rkl_top4096_y),
     (rkl_token_cols, rkl_token_labels, rkl_token_lx, rkl_token_y)],
]
yticks = [fkl_yticks, rkl_yticks]


def kl_colors(y, ymax):
    r = y / ymax
    t = np.clip(0.08 + 0.92 * np.sign(r) * np.abs(r) ** 0.85, 0, 1)
    return plt.cm.magma_r(t)


fig = plt.figure(figsize=(9.14, 3.35), dpi=100)
W, H = 914.0, 335.0
lefts = [29, 179, 327, 476, 625, 773]
row_box = [(152, 136), (307, 137)]  # bottom pixel, height

for r in range(2):
    for c in range(6):
        cols, labels, plx, py = rows[r][c]
        scale = panel_scales[c]
        x = np.concatenate([[10 ** lx] * len(v) for lx, v in cols])
        y = np.concatenate([v for lx, v in cols]) * scale
        px = 10 ** np.array(plx)
        py = np.array(py) * scale
        ymax = py.max()

        bot, hgt = row_box[r]
        ax = fig.add_axes([lefts[c] / W, 1 - bot / H, 135 / W, hgt / H])
        order = np.argsort(y)
        ax.scatter(x[order], y[order], c=kl_colors(y[order], ymax), s=18, alpha=0.72,
                   edgecolors='#333333', linewidths=0.35, zorder=2)
        ax.scatter(px, py, c=kl_colors(py, ymax), s=18, alpha=0.72,
                   edgecolors='#333333', linewidths=0.35, zorder=3)
        ax.set_xscale('log')
        ax.set_ylim(-0.1 * ymax, 1.1 * ymax)
        ax.set_yticks(yticks[r][c])
        if c >= 2:
            fmt = ScalarFormatter()
            fmt.set_powerlimits((0, 0))
            ax.yaxis.set_major_formatter(fmt)
        ax.yaxis.get_offset_text().set_fontsize(4.5)

        if c < 3:
            tx, ha = 0.955, 'right'
        else:
            tx, ha = 0.05, 'left'
        for i, lab in enumerate(labels):
            ax.annotate(lab, xy=(px[i], py[i]), xycoords='data',
                        xytext=(tx, 0.915 - 0.1 * i), textcoords='axes fraction',
                        ha=ha, va='center', fontsize=5.3, parse_math=False, zorder=5,
                        bbox=dict(boxstyle='round,pad=0.3', fc='yellow', ec='orange',
                                  lw=0.8, alpha=0.85),
                        arrowprops=dict(arrowstyle='->', color='red', lw=0.7, alpha=0.75,
                                        shrinkA=0, shrinkB=2, mutation_scale=6))

        ax.tick_params(which='both', labelsize=5, color='#666666', width=0.6, pad=1)
        ax.tick_params(which='major', length=2)
        ax.tick_params(which='minor', length=1.2)
        for s in ax.spines.values():
            s.set_color('#888888')
            s.set_linewidth(0.9)
        if r == 0:
            ax.set_title(titles[c], fontsize=7, fontweight='bold', pad=3)
        else:
            ax.set_xlabel('token count', fontsize=7, fontweight='bold', labelpad=1)
        if c == 0:
            ax.set_ylabel(row_labels[r], fontsize=7, fontweight='bold', labelpad=0)

fig.savefig('out.png', dpi=100)
